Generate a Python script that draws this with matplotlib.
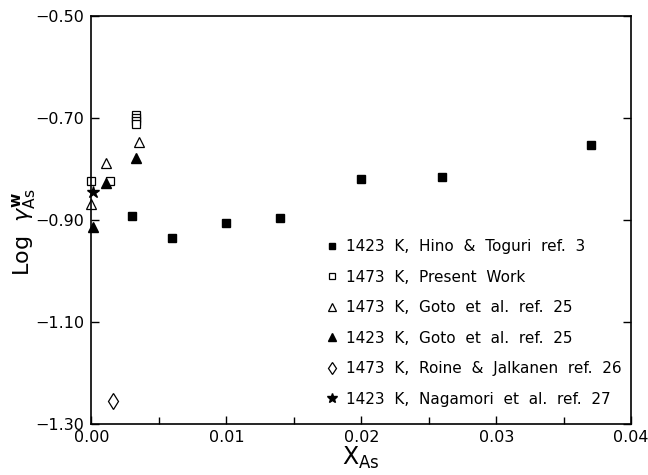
import matplotlib
matplotlib.use("Agg")
import matplotlib.pyplot as plt
from matplotlib.ticker import FixedLocator

plt.rcParams['font.family'] = ['DejaVu Sans']
plt.rcParams['mathtext.fontset'] = 'dejavusans'

# Data
hino_x = [0.003, 0.006, 0.010, 0.014, 0.020, 0.026, 0.037]
hino_y = [-0.892, -0.935, -0.905, -0.895, -0.820, -0.815, -0.752]

present_x = [0.0000, 0.0014, 0.0033, 0.0033, 0.0033, 0.0033]
present_y = [-0.824, -0.824, -0.693, -0.700, -0.705, -0.711]

goto1473_x = [0.0000, 0.0011, 0.0035]
goto1473_y = [-0.868, -0.788, -0.746]

goto1423_x = [0.0001, 0.00105, 0.0033]
goto1423_y = [-0.914, -0.828, -0.779]

roine_x = [0.0016]
roine_y = [-1.255]

naga_x = [0.0001]
naga_y = [-0.845]

labels = [
    "1423  K,  Hino  &  Toguri  ref.  3",
    "1473  K,  Present  Work",
    "1473  K,  Goto  et  al.  ref.  25",
    "1423  K,  Goto  et  al.  ref.  25",
    "1473  K,  Roine  &  Jalkanen  ref.  26",
    "1423  K,  Nagamori  et  al.  ref.  27",
]

fig = plt.figure(figsize=(6.48, 4.75), dpi=100)
ax = fig.add_axes([0.141, 0.107, 0.833, 0.859])

ms = 6
ax.plot(hino_x, hino_y, ls='none', marker='s', ms=ms, mfc='black', mec='black', label=labels[0], clip_on=False)
ax.plot(present_x, present_y, ls='none', marker='s', ms=ms, mfc='white', mec='black', mew=0.9, label=labels[1], clip_on=False)
ax.plot(goto1473_x, goto1473_y, ls='none', marker='^', ms=ms + 1, mfc='white', mec='black', mew=0.9, label=labels[2], clip_on=False)
ax.plot(goto1423_x, goto1423_y, ls='none', marker='^', ms=ms + 1, mfc='black', mec='black', label=labels[3], clip_on=False)
ax.plot(roine_x, roine_y, ls='none', marker='d', ms=ms + 2, mfc='white', mec='black', mew=0.9, label=labels[4], clip_on=False)
ax.plot(naga_x, naga_y, ls='none', marker='*', ms=ms + 3, mfc='black', mec='black', label=labels[5], clip_on=False)

ax.set_xlim(0.0, 0.04)
ax.set_ylim(-1.30, -0.50)

ax.xaxis.set_major_locator(FixedLocator([0.0, 0.01, 0.02, 0.03, 0.04]))
ax.xaxis.set_minor_locator(FixedLocator([0.005, 0.015, 0.025, 0.035]))
ax.set_xticklabels(["0.00", "0.01", "0.02", "0.03", "0.04"])
ax.yaxis.set_major_locator(FixedLocator([-1.30, -1.10, -0.90, -0.70, -0.50]))
ax.set_yticklabels(["\u22121.30", "\u22121.10", "\u22120.90", "\u22120.70", "\u22120.50"])

ax.tick_params(axis='both', which='both', direction='in', labelsize=11.5, width=1.0)
ax.tick_params(axis='both', which='major', length=6)
ax.tick_params(axis='both', which='minor', length=5)
ax.tick_params(axis='x', which='major', pad=4)
ax.tick_params(axis='y', which='major', pad=5)
ax.tick_params(axis='y', right=True)
for s in ax.spines.values():
    s.set_linewidth(1.2)

ax.set_xlabel(r'$\mathrm{X}_{\mathrm{As}}$', fontsize=17, labelpad=0)
ax.set_ylabel(r'Log  $\gamma^{\mathbf{w}}_{\mathrm{As}}$', fontsize=16)
ax.yaxis.set_label_coords(-0.098, 0.47)

leg = ax.legend(loc='upper left', bbox_to_anchor=(0.424, 0.469), frameon=False,
                fontsize=11, handlelength=0.8, handletextpad=0.5,
                labelspacing=1.02, borderaxespad=0, markerscale=0.8)

fig.savefig("out.png", dpi=100)
